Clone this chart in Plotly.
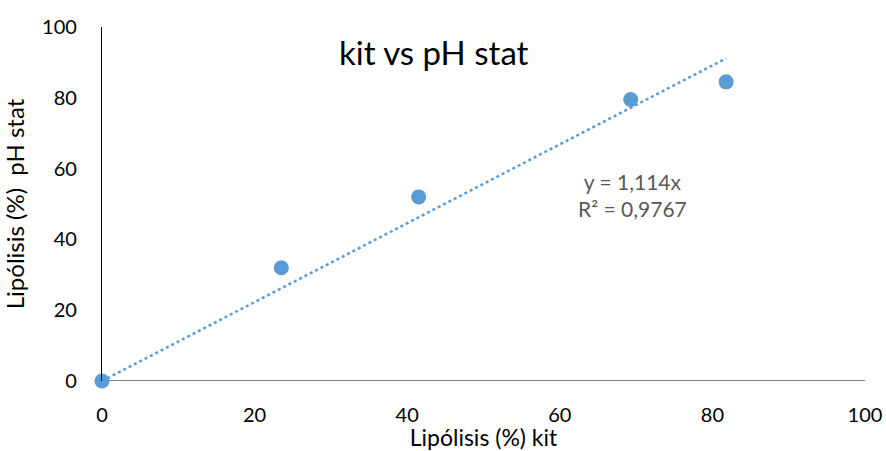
import plotly.graph_objects as go

kit = [0, 23.5, 41.5, 69.3, 81.8]
phstat = [0, 32, 52, 79.5, 84.5]
slope = 1.114
trend_x = [0, max(kit)]
trend_y = [slope * v for v in trend_x]
x_ticks = [0, 20, 40, 60, 80, 100]
y_ticks = [0, 20, 40, 60, 80, 100]

FONT = "Lato"
BLUE = "#5B9BD5"

fig = go.Figure()
fig.add_trace(go.Scatter(x=trend_x, y=trend_y, mode="lines",
                         line=dict(color=BLUE, width=2.5, dash="dot"),
                         showlegend=False, hoverinfo="skip", cliponaxis=False))
fig.add_trace(go.Scatter(x=kit, y=phstat, mode="markers",
                         marker=dict(color=BLUE, size=15),
                         showlegend=False, cliponaxis=False))

fig.update_layout(
    width=886, height=451,
    margin=dict(l=102, r=21, t=27, b=70),
    plot_bgcolor="white", paper_bgcolor="white",
    font=dict(family=FONT, color="black"),
    xaxis=dict(range=[0, 100], tickvals=x_ticks, showgrid=False, zeroline=False,
               showline=False, ticks="", tickfont=dict(size=20, color="black"),
               ticklabelstandoff=20, automargin=False,
               title=dict(text="Lipólisis (%) kit", font=dict(size=23), standoff=2)),
    yaxis=dict(range=[0, 100], tickvals=y_ticks, showgrid=False, zeroline=False,
               showline=True, linecolor="black", linewidth=1.3, ticks="",
               tickfont=dict(size=20, color="black"), ticklabelstandoff=20,
               automargin=False,
               title=dict(text="Lipólisis (%)  pH stat", font=dict(size=24), standoff=12)),
    shapes=[dict(type="line", xref="paper", yref="y", x0=0, x1=1, y0=0, y1=0,
                 line=dict(color="#595959", width=1.5), layer="below")],
    annotations=[
        dict(text="kit vs pH stat", xref="paper", yref="paper", x=0.435, y=0.93,
             showarrow=False, font=dict(size=33, color="black"), xanchor="center", yanchor="middle"),
        dict(text="y = 1,114x<br>R² = 0,9767", xref="x", yref="y", x=69.5, y=52.5,
             showarrow=False, font=dict(size=21, color="#595959"), align="center"),
    ],
)
fig.write_html("out.html")
